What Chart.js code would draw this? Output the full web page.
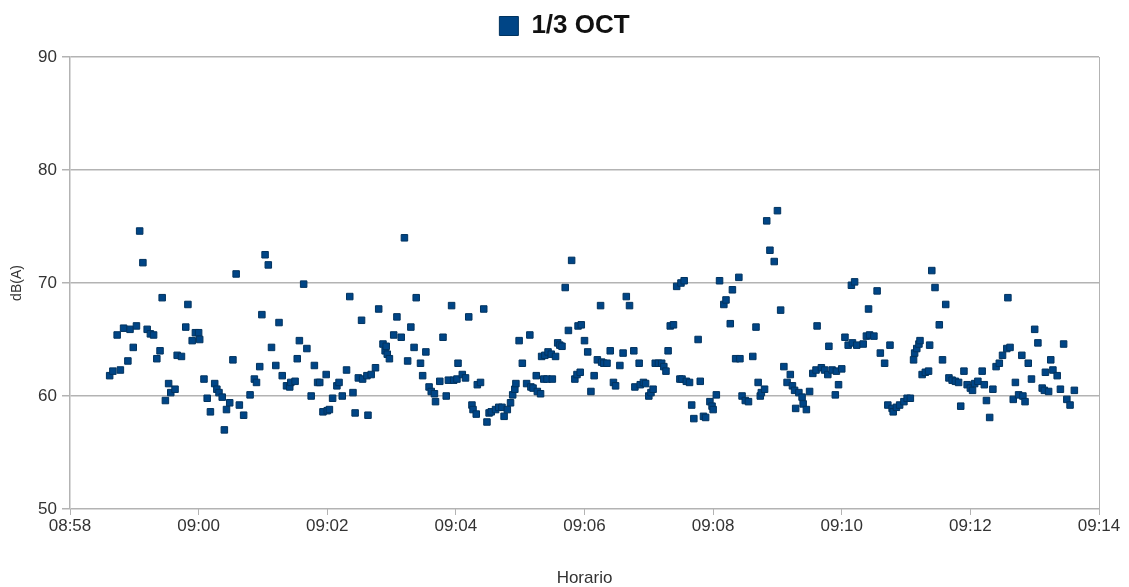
<!DOCTYPE html>
<html lang="es">
<head>
<meta charset="utf-8">
<title>1/3 OCT</title>
<script src="https://cdn.jsdelivr.net/npm/chart.js@4.4.1/dist/chart.umd.min.js"></script>
<style>
  html, body { margin: 0; padding: 0; background: #fff; }
  #wrap { width: 1129px; height: 587px; }
</style>
</head>
<body>
<div id="wrap"><canvas id="myChart" width="1129" height="587"></canvas></div>
<script>
const serie = "1/3 OCT";
const ejeX = "Horario";
const ejeY = "dB(A)";

// hora de cada medida (hh:mm:ss)
const horario = [
  "08:58:37", "08:58:40", "08:58:44", "08:58:47", "08:58:50", "08:58:54", "08:58:56", "08:58:59",
  "08:59:02", "08:59:05", "08:59:08", "08:59:12", "08:59:15", "08:59:18", "08:59:21", "08:59:24",
  "08:59:26", "08:59:29", "08:59:32", "08:59:34", "08:59:38", "08:59:40", "08:59:44", "08:59:48",
  "08:59:50", "08:59:54", "08:59:57", "09:00:00", "09:00:01", "09:00:05", "09:00:08", "09:00:11",
  "09:00:15", "09:00:17", "09:00:19", "09:00:22", "09:00:24", "09:00:26", "09:00:29", "09:00:32",
  "09:00:35", "09:00:38", "09:00:42", "09:00:48", "09:00:52", "09:00:54", "09:00:57", "09:00:59",
  "09:01:02", "09:01:05", "09:01:08", "09:01:12", "09:01:15", "09:01:18", "09:01:22", "09:01:25",
  "09:01:26", "09:01:30", "09:01:32", "09:01:34", "09:01:38", "09:01:41", "09:01:45", "09:01:48",
  "09:01:51", "09:01:53", "09:01:56", "09:01:59", "09:02:00", "09:02:02", "09:02:05", "09:02:09",
  "09:02:11", "09:02:14", "09:02:18", "09:02:21", "09:02:24", "09:02:26", "09:02:29", "09:02:32",
  "09:02:33", "09:02:37", "09:02:38", "09:02:41", "09:02:45", "09:02:48", "09:02:52", "09:02:54",
  "09:02:55", "09:02:56", "09:02:58", "09:03:02", "09:03:05", "09:03:09", "09:03:12", "09:03:15",
  "09:03:18", "09:03:21", "09:03:23", "09:03:27", "09:03:29", "09:03:32", "09:03:35", "09:03:37",
  "09:03:40", "09:03:41", "09:03:45", "09:03:48", "09:03:51", "09:03:53", "09:03:56", "09:03:58",
  "09:04:01", "09:04:02", "09:04:06", "09:04:09", "09:04:12", "09:04:15", "09:04:16", "09:04:19",
  "09:04:20", "09:04:23", "09:04:26", "09:04:29", "09:04:31", "09:04:33", "09:04:37", "09:04:40",
  "09:04:43", "09:04:45", "09:04:48", "09:04:51", "09:04:53", "09:04:55", "09:04:56", "09:04:59",
  "09:05:02", "09:05:06", "09:05:09", "09:05:10", "09:05:12", "09:05:15", "09:05:16", "09:05:19",
  "09:05:20", "09:05:22", "09:05:23", "09:05:25", "09:05:26", "09:05:29", "09:05:30", "09:05:33",
  "09:05:35", "09:05:37", "09:05:39", "09:05:42", "09:05:45", "09:05:48", "09:05:51", "09:05:53",
  "09:05:54", "09:05:56", "09:05:57", "09:06:00", "09:06:03", "09:06:06", "09:06:09", "09:06:12",
  "09:06:15", "09:06:16", "09:06:18", "09:06:21", "09:06:24", "09:06:27", "09:06:29", "09:06:33",
  "09:06:36", "09:06:39", "09:06:42", "09:06:46", "09:06:47", "09:06:51", "09:06:52", "09:06:55",
  "09:06:57", "09:07:00", "09:07:02", "09:07:04", "09:07:06", "09:07:09", "09:07:12", "09:07:14",
  "09:07:16", "09:07:18", "09:07:20", "09:07:23", "09:07:26", "09:07:29", "09:07:30", "09:07:31",
  "09:07:33", "09:07:35", "09:07:38", "09:07:40", "09:07:42", "09:07:46", "09:07:48", "09:07:51",
  "09:07:53", "09:07:57", "09:07:59", "09:08:00", "09:08:03", "09:08:06", "09:08:10", "09:08:12",
  "09:08:16", "09:08:18", "09:08:21", "09:08:24", "09:08:25", "09:08:27", "09:08:30", "09:08:33",
  "09:08:37", "09:08:40", "09:08:42", "09:08:44", "09:08:45", "09:08:48", "09:08:50", "09:08:53",
  "09:08:57", "09:09:00", "09:09:03", "09:09:06", "09:09:09", "09:09:12", "09:09:14", "09:09:16",
  "09:09:17", "09:09:20", "09:09:23", "09:09:24", "09:09:27", "09:09:30", "09:09:33", "09:09:36",
  "09:09:37", "09:09:41", "09:09:44", "09:09:47", "09:09:48", "09:09:51", "09:09:54", "09:09:55",
  "09:09:57", "09:10:00", "09:10:03", "09:10:06", "09:10:09", "09:10:10", "09:10:12", "09:10:14",
  "09:10:20", "09:10:23", "09:10:25", "09:10:26", "09:10:30", "09:10:33", "09:10:36", "09:10:40",
  "09:10:43", "09:10:45", "09:10:47", "09:10:48", "09:10:51", "09:10:54", "09:10:58", "09:11:01",
  "09:11:04", "09:11:07", "09:11:08", "09:11:10", "09:11:12", "09:11:13", "09:11:15", "09:11:18",
  "09:11:21", "09:11:22", "09:11:24", "09:11:27", "09:11:31", "09:11:34", "09:11:37", "09:11:40",
  "09:11:43", "09:11:46", "09:11:49", "09:11:51", "09:11:54", "09:11:57", "09:12:00", "09:12:02",
  "09:12:04", "09:12:07", "09:12:11", "09:12:13", "09:12:15", "09:12:18", "09:12:21", "09:12:24",
  "09:12:27", "09:12:30", "09:12:34", "09:12:35", "09:12:37", "09:12:40", "09:12:42", "09:12:45",
  "09:12:48", "09:12:49", "09:12:51", "09:12:54", "09:12:57", "09:13:00", "09:13:03", "09:13:07",
  "09:13:09", "09:13:10", "09:13:13", "09:13:15", "09:13:17", "09:13:21", "09:13:24", "09:13:27",
  "09:13:30", "09:13:33", "09:13:37"
];

// nivel medido en dB(A), mismo orden que horario
const nivel = [
  61.8, 62.2, 65.4, 62.3, 66.0, 63.1, 65.9, 64.3,
  66.2, 74.6, 71.8, 65.9, 65.5, 65.4, 63.3, 64.0,
  68.7, 59.6, 61.1, 60.3, 60.6, 63.6, 63.5, 66.1,
  68.1, 64.9, 65.6, 65.6, 65.0, 61.5, 59.8, 58.6,
  61.1, 60.6, 60.3, 59.9, 57.0, 58.8, 59.4, 63.2,
  70.8, 59.2, 58.3, 60.1, 61.5, 61.2, 62.6, 67.2,
  72.5, 71.6, 64.3, 62.7, 66.5, 61.8, 60.9, 60.8,
  61.2, 61.3, 63.3, 64.9, 69.9, 64.2, 60.0, 62.7,
  61.2, 61.2, 58.6, 61.9, 58.7, 58.8, 59.8, 60.9,
  61.2, 60.0, 62.3, 68.8, 60.3, 58.5, 61.6, 66.7,
  61.5, 61.8, 58.3, 61.9, 62.5, 67.7, 64.6, 64.0,
  64.4, 63.7, 63.3, 65.4, 67.0, 65.2, 74.0, 63.1,
  66.1, 64.3, 68.7, 62.9, 61.8, 63.9, 60.8, 60.4,
  60.2, 59.5, 61.3, 65.2, 60.0, 61.4, 68.0, 61.4,
  61.5, 62.9, 61.9, 61.6, 67.0, 59.2, 58.8, 58.4,
  61.0, 61.2, 67.7, 57.7, 58.5, 58.6, 58.8, 59.0,
  59.0, 58.2, 58.8, 59.4, 60.1, 60.6, 61.1, 64.9,
  62.9, 61.1, 65.4, 60.8, 60.7, 61.8, 60.4, 60.2,
  63.5, 61.5, 63.6, 61.5, 63.9, 63.7, 61.5, 63.5,
  64.7, 64.5, 64.4, 69.6, 65.8, 72.0, 61.5, 61.9,
  66.2, 62.1, 66.3, 64.9, 63.9, 60.4, 61.8, 63.2,
  68.0, 63.0, 62.9, 62.9, 64.0, 61.2, 60.9, 62.7,
  63.8, 68.8, 68.0, 64.0, 60.8, 62.9, 61.0, 61.2,
  61.1, 60.0, 60.3, 60.6, 62.9, 62.9, 62.9, 62.6,
  62.2, 64.0, 66.2, 66.3, 69.7, 61.5, 70.0, 61.5,
  70.2, 61.3, 61.2, 59.2, 58.0, 65.0, 61.3, 58.2,
  58.1, 59.5, 59.1, 58.8, 60.1, 70.2, 68.1, 68.5,
  66.4, 69.4, 63.3, 70.5, 63.3, 60.0, 59.6, 59.5,
  63.5, 66.1, 61.2, 60.0, 60.3, 60.6, 75.5, 72.9,
  71.9, 76.4, 67.6, 62.6, 61.2, 61.9, 60.9, 60.5,
  58.9, 60.3, 59.9, 59.3, 58.8, 60.4, 62.0, 62.3,
  66.2, 62.5, 62.3, 61.9, 64.4, 62.3, 60.1, 62.2,
  61.0, 62.4, 65.2, 64.5, 69.8, 64.7, 70.1, 64.5,
  64.6, 65.3, 67.7, 65.4, 65.3, 69.3, 63.8, 62.9,
  59.2, 64.5, 58.9, 58.6, 59.0, 59.2, 59.5, 59.8,
  59.8, 63.2, 63.8, 64.2, 64.6, 64.9, 61.9, 62.1,
  62.2, 64.5, 71.1, 69.6, 66.3, 63.2, 68.1, 61.6,
  61.4, 61.3, 61.2, 59.1, 62.2, 61.0, 60.7, 60.5,
  61.1, 61.3, 62.2, 61.0, 59.6, 58.1, 60.6, 62.6,
  62.9, 63.6, 64.2, 68.7, 64.3, 59.7, 61.2, 60.1,
  63.6, 60.0, 59.5, 62.9, 61.5, 65.9, 64.7, 60.7,
  60.5, 62.1, 60.4, 63.2, 62.3, 61.8, 60.6, 64.6,
  59.7, 59.2, 60.5
];

// eje X: de 08:58 a 09:14 cada 2 minutos; eje Y: 50 a 90 cada 10
const xInicio = "08:58";
const xFin = "09:14";
const xPaso = 2;
const yMin = 50;
const yMax = 90;
const yPaso = 10;

const azul = "#004586";
const gris = "#b3b3b3";
const sans = "'Liberation Sans', Arial, sans-serif";

function toMinutes(str) {
  const [h, m, s = 0] = str.split(":").map(Number);
  return h * 60 + m + s / 60;
}

function fmtHour(value) {
  const h = Math.floor(value / 60);
  const m = Math.round(value - h * 60);
  return String(h).padStart(2, "0") + ":" + String(m).padStart(2, "0");
}

const points = horario.map((t, i) => ({ x: toMinutes(t), y: nivel[i] }));
const xMax = toMinutes(xFin);

const ctx = document.getElementById("myChart");

new Chart(ctx, {
  type: "scatter",
  data: {
    datasets: [
      {
        label: serie,
        data: points,
        pointStyle: "rect",
        pointRadius: 4.6,
        pointHoverRadius: 4.6,
        backgroundColor: azul,
        borderColor: "#00335f",
        borderWidth: 1,
      },
    ],
  },
  options: {
    responsive: false,
    animation: false,
    layout: {
      padding: { top: 5, right: 0, bottom: 0, left: 0 },
    },
    plugins: {
      legend: {
        position: "top",
        labels: {
          boxWidth: 19,
          boxHeight: 19,
          padding: 8,
          color: "#111",
          font: { family: sans, size: 26, weight: "bold" },
        },
      },
      // empty title used as a spacer between legend and plot
      title: {
        display: true,
        text: "",
        weight: 500,
        padding: { top: 0, bottom: 7 },
        font: { size: 1, lineHeight: 1 },
      },
      tooltip: { enabled: false },
    },
    scales: {
      x: {
        type: "linear",
        min: toMinutes(xInicio),
        max: xMax,
        afterFit: (scale) => {
          scale.height = 78;
          scale.paddingRight = 30; // keeps the legend centred on the whole canvas
        },
        ticks: {
          stepSize: xPaso,
          padding: 1,
          maxRotation: 0,
          color: "#333",
          font: { family: sans, size: 17 },
          callback: (value) => fmtHour(value),
        },
        grid: {
          drawOnChartArea: true,
          tickLength: 6,
          tickColor: gris,
          color: (c) => (c.tick && c.tick.value === xMax ? gris : "rgba(0,0,0,0)"),
        },
        border: { display: false },
        title: {
          display: true,
          text: ejeX,
          color: "#333",
          padding: { top: 0, bottom: 0 },
          font: { family: sans, size: 17, lineHeight: 1 },
        },
      },
      y: {
        min: yMin,
        max: yMax,
        afterFit: (scale) => {
          scale.width = 70;
        },
        ticks: {
          stepSize: yPaso,
          padding: 5,
          color: "#333",
          font: { family: sans, size: 17 },
        },
        grid: {
          color: gris,
          lineWidth: 1.5,
          tickLength: 8,
        },
        border: { color: gris, width: 1.5 },
        title: {
          display: true,
          text: ejeY,
          color: "#333",
          padding: { top: 9, bottom: 0 },
          font: { family: sans, size: 14 },
        },
      },
    },
  },
});
</script>
</body>
</html>
